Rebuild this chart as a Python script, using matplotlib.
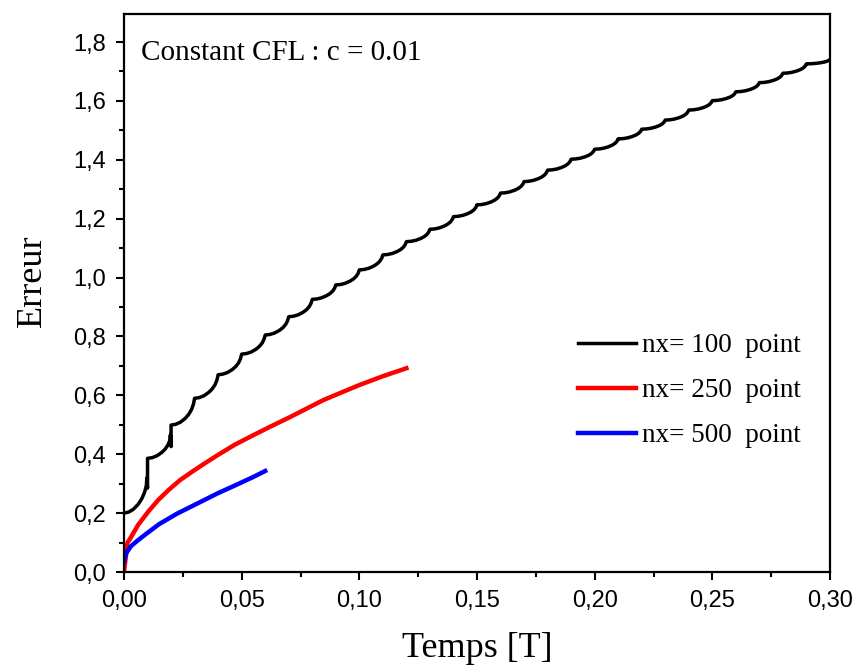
import matplotlib
matplotlib.use("Agg")
import matplotlib.pyplot as plt
from matplotlib.ticker import FuncFormatter, MultipleLocator

# ---------------- data ----------------
# black curve (nx = 100): value at the start of every 0.01 period
black_period = 0.01
black_start = [0.200, 0.386, 0.499, 0.590, 0.670, 0.740, 0.805, 0.867, 0.926, 0.975,
               1.026, 1.077, 1.122, 1.164, 1.207, 1.247, 1.287, 1.326, 1.365, 1.402,
               1.436, 1.471, 1.504, 1.535, 1.569, 1.601, 1.631, 1.662, 1.694, 1.726]
# value reached at the end of each arc (before the jump)
black_end = [0.320, 0.465, 0.590, 0.670, 0.740, 0.805, 0.867, 0.926, 0.975, 1.026,
             1.077, 1.122, 1.164, 1.207, 1.247, 1.287, 1.326, 1.365, 1.402, 1.436,
             1.471, 1.504, 1.535, 1.569, 1.601, 1.631, 1.662, 1.694, 1.726, 1.741]
# small downward spikes seen at the first two jumps
black_dip = [0.285, 0.426]
# shape of one scallop (fraction of period -> fraction of rise)
scallop_s = [0.0, 0.2, 0.4, 0.6, 0.75, 0.87, 0.95, 1.0]
scallop_p = [0.0, 0.03, 0.11, 0.25, 0.40, 0.58, 0.78, 1.0]

# red curve (nx = 250)
red_t = [0.0, 0.0015, 0.0025, 0.006, 0.0103, 0.0146, 0.019, 0.0238, 0.0290,
         0.0345, 0.040, 0.047, 0.055, 0.063, 0.0705, 0.0847, 0.100, 0.110, 0.120]
red_v = [0.0, 0.100, 0.112, 0.160, 0.205, 0.245, 0.279, 0.312, 0.341,
         0.370, 0.398, 0.432, 0.465, 0.497, 0.526, 0.584, 0.635, 0.665, 0.692]

# blue curve (nx = 500)
blue_t = [0.0, 0.001, 0.003, 0.0055, 0.0095, 0.015, 0.0225, 0.031, 0.040, 0.048, 0.055, 0.060]
blue_v = [0.035, 0.065, 0.088, 0.105, 0.130, 0.163, 0.198, 0.232, 0.268, 0.297, 0.323, 0.343]

labels = ["nx= 100  point", "nx= 250  point", "nx= 500  point"]
colors = ["#000000", "#ff0000", "#0000ff"]
xticks = [0.0, 0.05, 0.10, 0.15, 0.20, 0.25, 0.30]
yticks = [0.0, 0.2, 0.4, 0.6, 0.8, 1.0, 1.2, 1.4, 1.6, 1.8]

# ---------------- build black path from period data ----------------
bt, bv = [], []
for k in range(len(black_start)):
    t0 = k * black_period
    a, b = black_start[k], black_end[k]
    last_s = 0.97 if k < len(black_dip) else 1.0
    for s, p in zip(scallop_s, scallop_p):
        s_use = min(s, last_s)
        bt.append(t0 + s_use * black_period)
        bv.append(a + (b - a) * p)
    if k < len(black_dip):
        bt.append(t0 + black_period)
        bv.append(black_dip[k])

# ---------------- figure ----------------
fig = plt.figure(figsize=(8.58, 6.68), dpi=100)
ax = fig.add_axes([124 / 858, 1 - 572 / 668, (830 - 124) / 858, (572 - 13.5) / 668])

ax.plot(bt, bv, color=colors[0], lw=2.5, label=labels[0], solid_joinstyle="round")
ax.plot(red_t, red_v, color=colors[1], lw=3.2, label=labels[1], solid_joinstyle="round")
ax.plot(blue_t, blue_v, color=colors[2], lw=3.2, label=labels[2], solid_joinstyle="round")

ax.set_xlim(0, 0.30)
ax.set_ylim(0, 1.897)
ax.set_xticks(xticks)
ax.set_yticks(yticks)
ax.xaxis.set_minor_locator(MultipleLocator(0.025))
ax.yaxis.set_minor_locator(MultipleLocator(0.1))
ax.xaxis.set_major_formatter(FuncFormatter(lambda v, p: f"{v:.2f}".replace(".", ",")))
ax.yaxis.set_major_formatter(FuncFormatter(lambda v, p: f"{v:.1f}".replace(".", ",")))

for sp in ax.spines.values():
    sp.set_linewidth(1.6)
ax.tick_params(which="major", direction="out", length=6, width=1.5,
               labelsize=17, pad=7, top=False, right=False)
ax.tick_params(which="minor", direction="out", length=3.6, width=1.5, top=False, right=False)
for lab in ax.get_xticklabels() + ax.get_yticklabels():
    lab.set_fontfamily("Liberation Sans")

ax.set_xlabel("Temps [T]", fontfamily="Liberation Serif", fontsize=26)
ax.set_ylabel("Erreur", fontfamily="Liberation Serif", fontsize=26)
ax.xaxis.set_label_coords(0.5, -0.108)
ax.yaxis.set_label_coords(-0.107, 0.522)

ax.text(0.024, 0.93, "Constant CFL : c = 0.01", transform=ax.transAxes,
        fontfamily="Liberation Serif", fontsize=21, va="center", ha="left")

leg = ax.legend(loc="upper left", bbox_to_anchor=(578 / 858, 1 - 333 / 668),
                bbox_transform=fig.transFigure, frameon=False,
                prop={"family": "Liberation Serif", "size": 19.5},
                handlelength=2.15, handletextpad=0.2, labelspacing=0.74,
                borderpad=0, borderaxespad=0)

fig.savefig("out.png", dpi=100)
